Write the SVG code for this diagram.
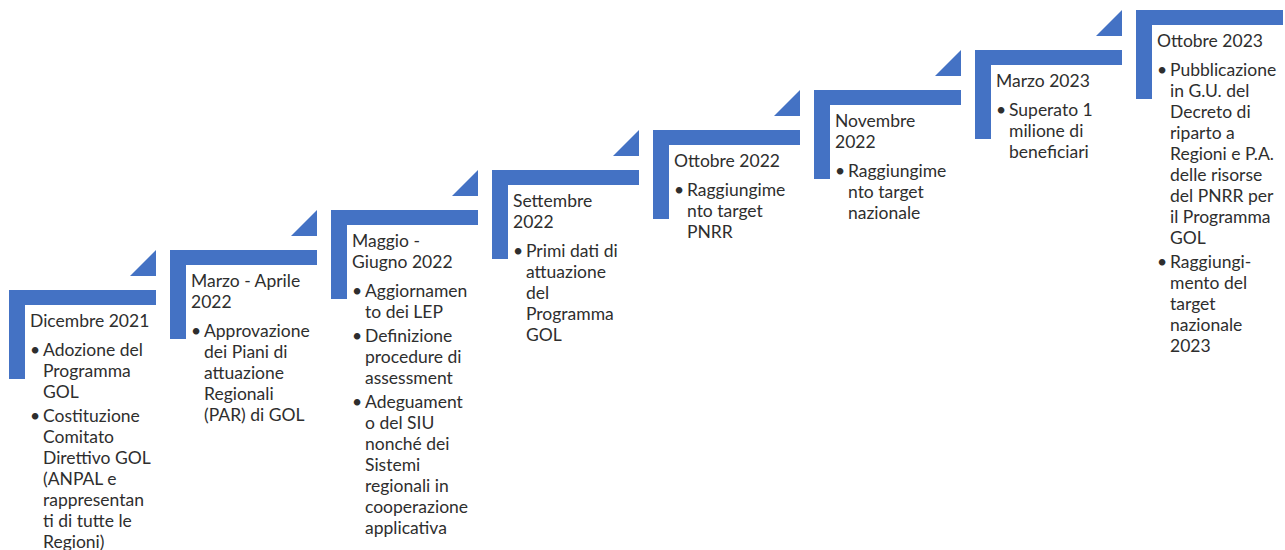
<svg xmlns="http://www.w3.org/2000/svg" width="1285" height="550" viewBox="0 0 1285 550">
<style>
.s{fill:#4472C4}
text{font-family:Lato,"Liberation Sans",sans-serif;font-size:17.5px;fill:#2e2e2e}
.b{text-anchor:middle}
</style>
<defs>
<path id="step" class="s" d="M0 0H147V15H16V89H0Z"/>
<path id="tri" class="s" d="M121 -14H147V-40Z"/>
</defs>
<rect width="1285" height="550" fill="#fff"/>
<g id="step1" transform="translate(9,290)">
<use href="#step"/><use href="#tri"/>
<text x="21" y="37">Dicembre 2021</text>
<text class="b" x="26" y="66">•</text>
<text x="34" y="66">Adozione del</text>
<text x="34" y="87">Programma</text>
<text x="34" y="108">GOL</text>
<text class="b" x="26" y="132">•</text>
<text x="34" y="132">Costituzione</text>
<text x="34" y="153">Comitato</text>
<text x="34" y="174">Direttivo GOL</text>
<text x="34" y="195">(ANPAL e</text>
<text x="34" y="216">rappresentan</text>
<text x="34" y="237">ti di tutte le</text>
<text x="34" y="258">Regioni)</text>
</g>
<g id="step2" transform="translate(170,250)">
<use href="#step"/><use href="#tri"/>
<text x="21" y="37">Marzo - Aprile</text>
<text x="21" y="58">2022</text>
<text class="b" x="26" y="87">•</text>
<text x="34" y="87">Approvazione</text>
<text x="34" y="108">dei Piani di</text>
<text x="34" y="129">attuazione</text>
<text x="34" y="150">Regionali</text>
<text x="34" y="171">(PAR) di GOL</text>
</g>
<g id="step3" transform="translate(331,210)">
<use href="#step"/><use href="#tri"/>
<text x="21" y="37">Maggio -</text>
<text x="21" y="58">Giugno 2022</text>
<text class="b" x="26" y="87">•</text>
<text x="34" y="87">Aggiornamen</text>
<text x="34" y="108">to dei LEP</text>
<text class="b" x="26" y="132">•</text>
<text x="34" y="132">Definizione</text>
<text x="34" y="153">procedure di</text>
<text x="34" y="174">assessment</text>
<text class="b" x="26" y="198">•</text>
<text x="34" y="198">Adeguament</text>
<text x="34" y="219">o del SIU</text>
<text x="34" y="240">nonché dei</text>
<text x="34" y="261">Sistemi</text>
<text x="34" y="282">regionali in</text>
<text x="34" y="303">cooperazione</text>
<text x="34" y="324">applicativa</text>
</g>
<g id="step4" transform="translate(492,170)">
<use href="#step"/><use href="#tri"/>
<text x="21" y="37">Settembre</text>
<text x="21" y="58">2022</text>
<text class="b" x="26" y="87">•</text>
<text x="34" y="87">Primi dati di</text>
<text x="34" y="108">attuazione</text>
<text x="34" y="129">del</text>
<text x="34" y="150">Programma</text>
<text x="34" y="171">GOL</text>
</g>
<g id="step5" transform="translate(653,130)">
<use href="#step"/><use href="#tri"/>
<text x="21" y="37">Ottobre 2022</text>
<text class="b" x="26" y="66">•</text>
<text x="34" y="66">Raggiungime</text>
<text x="34" y="87">nto target</text>
<text x="34" y="108">PNRR</text>
</g>
<g id="step6" transform="translate(814,90)">
<use href="#step"/><use href="#tri"/>
<text x="21" y="37">Novembre</text>
<text x="21" y="58">2022</text>
<text class="b" x="26" y="87">•</text>
<text x="34" y="87">Raggiungime</text>
<text x="34" y="108">nto target</text>
<text x="34" y="129">nazionale</text>
</g>
<g id="step7" transform="translate(975,50)">
<use href="#step"/><use href="#tri"/>
<text x="21" y="37">Marzo 2023</text>
<text class="b" x="26" y="66">•</text>
<text x="34" y="66">Superato 1</text>
<text x="34" y="87">milione di</text>
<text x="34" y="108">beneficiari</text>
</g>
<g id="step8" transform="translate(1136,10)">
<use href="#step"/>
<text x="21" y="37">Ottobre 2023</text>
<text class="b" x="26" y="66">•</text>
<text x="34" y="66">Pubblicazione</text>
<text x="34" y="87">in G.U. del</text>
<text x="34" y="108">Decreto di</text>
<text x="34" y="129">riparto a</text>
<text x="34" y="150">Regioni e P.A.</text>
<text x="34" y="171">delle risorse</text>
<text x="34" y="192">del PNRR per</text>
<text x="34" y="213">il Programma</text>
<text x="34" y="234">GOL</text>
<text class="b" x="26" y="258">•</text>
<text x="34" y="258">Raggiungi-</text>
<text x="34" y="279">mento del</text>
<text x="34" y="300">target</text>
<text x="34" y="321">nazionale</text>
<text x="34" y="342">2023</text>
</g>
<g id="connectors"/>
</svg>
